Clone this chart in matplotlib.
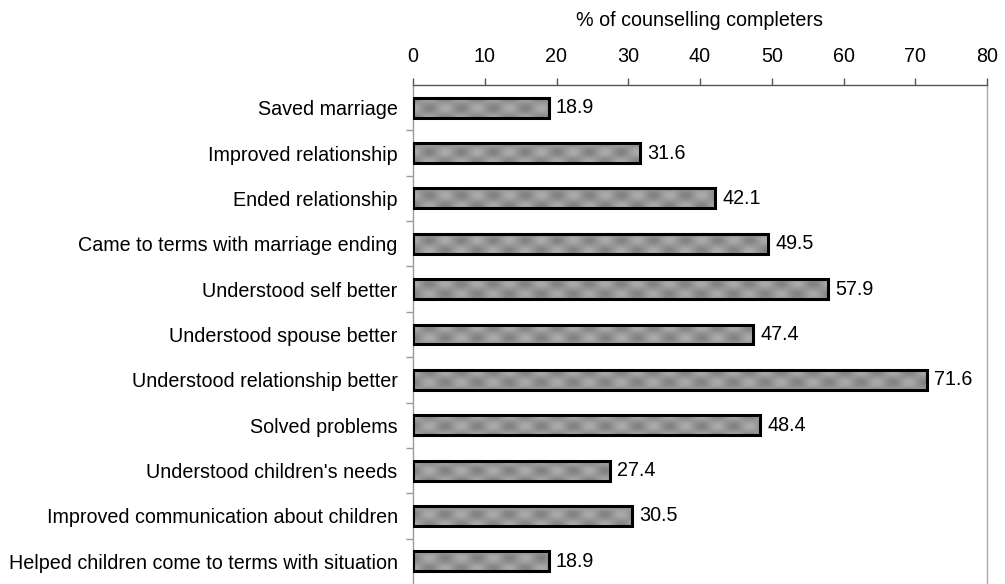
import numpy as np
import matplotlib
matplotlib.use("Agg")
import matplotlib.pyplot as plt
from matplotlib.ticker import FixedLocator

plt.rcParams['font.family'] = ['Liberation Sans', 'DejaVu Sans']

categories = [
    "Saved marriage",
    "Improved relationship",
    "Ended relationship",
    "Came to terms with marriage ending",
    "Understood self better",
    "Understood spouse better",
    "Understood relationship better",
    "Solved problems",
    "Understood children's needs",
    "Improved communication about children",
    "Helped children come to terms with situation",
]
values = [18.9, 31.6, 42.1, 49.5, 57.9, 47.4, 71.6, 48.4, 27.4, 30.5, 18.9]
xticks = [0, 10, 20, 30, 40, 50, 60, 70, 80]
xlabel = "% of counselling completers"

FS = 14.2

fig = plt.figure(figsize=(10.05, 5.84), dpi=100)
ax = fig.add_axes([413 / 1005, 0.0, (987 - 413) / 1005, 1 - 85 / 584])

n = len(categories)
ypos = np.arange(n)
bar_h = 0.44

# soft mottled grey texture used as the bar fill
tx = np.linspace(0, 80, 1000)
ty = np.linspace(-0.5, n - 0.5, 1100)
TX, TY = np.meshgrid(tx, ty)
px = TX * 574 / 80
py = TY * 45.4
tex = 0.59 + 0.08 * np.cos(2 * np.pi * px / 32) * np.cos(2 * np.pi * py / 22)

bars = ax.barh(ypos, values, height=bar_h, facecolor='none',
               edgecolor='black', linewidth=2.2, zorder=3)
for bar, v in zip(bars, values):
    im = ax.imshow(tex, extent=(0, 80, n - 0.5, -0.5), cmap='gray',
                   vmin=0, vmax=1, aspect='auto', zorder=2,
                   interpolation='bilinear')
    im.set_clip_path(bar)
    ax.text(v + 1.0, bar.get_y() + bar.get_height() / 2, f"{v}",
            va='center', ha='left', fontsize=FS, color='black')

ax.set_xlim(0, 80)
ax.set_ylim(n - 0.5, -0.5)

ax.xaxis.set_ticks_position('top')
ax.xaxis.set_label_position('top')
ax.set_xticks(xticks)
ax.set_xticklabels([str(t) for t in xticks], fontsize=FS)
ax.set_xlabel(xlabel, fontsize=FS, labelpad=15)
ax.tick_params(axis='x', direction='out', length=5, width=1,
               color='#555555', pad=9)

ax.set_yticks(ypos)
ax.set_yticklabels(categories, fontsize=FS)
ax.tick_params(axis='y', which='major', length=0, pad=11)
ax.yaxis.set_minor_locator(FixedLocator(np.arange(0.5, n - 0.5, 1)))
ax.tick_params(axis='y', which='minor', direction='out', length=5,
               width=1, color='#999999')

ax.spines['bottom'].set_visible(False)
ax.spines['top'].set_color('#555555')
ax.spines['left'].set_color('#999999')
ax.spines['right'].set_color('#aaaaaa')
for s in ax.spines.values():
    s.set_linewidth(1)

fig.savefig("out.png", dpi=100)
